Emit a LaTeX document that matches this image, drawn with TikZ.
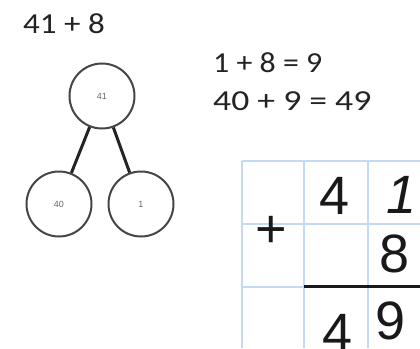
\documentclass[tikz,border=0pt]{standalone}
\usepackage{fontspec}
\setmainfont{Carlito}
\newfontfamily\handfont{Liberation Sans}
\newfontfamily\labfont{Liberation Sans}
\definecolor{gridblue}{RGB}{196,218,243}
\definecolor{inkgray}{RGB}{35,35,35}
\definecolor{circgray}{RGB}{70,70,70}
\definecolor{handink}{RGB}{25,25,25}
\begin{document}
\begin{tikzpicture}[x=1pt,y=-1pt,
  bubble/.style={circle,draw=circgray,line width=2pt,minimum size=65pt,inner sep=0pt,
    font=\labfont\fontsize{9}{9}\selectfont,text=black!60},
  link/.style={draw=inkgray,line width=3pt},
  gridline/.style={draw=gridblue,line width=1.3pt},
  typed/.style={anchor=base west,inner sep=0pt,text=inkgray,font=\fontsize{29}{29}\selectfont},
  hand/.style={anchor=base,inner sep=0pt,text=handink,font=\handfont\fontsize{54}{54}\selectfont}]
\useasboundingbox (0,0) rectangle (420,348);
\clip (0,0) rectangle (420,348);
% number bond
\node[bubble] (top) at (102,96) {41};
\node[bubble] (left) at (59,204) {40};
\node[bubble] (right) at (141,204) {1};
\draw[link] (top) -- (left);
\draw[link] (top) -- (right);
% typed text
\node[typed] (sum) at (23,33) {\scalebox{1.14}[1]{41 + 8}};
\node[typed] (eqa) at (213,72) {\scalebox{1.10}[1]{1 + 8 = 9}};
\node[typed] (eqb) at (213,110) {\scalebox{1.23}[1]{40 + 9 = 49}};
% grid
\draw[gridline] (242,161) -- (242,348);
\draw[gridline] (304,161) -- (304,348);
\draw[gridline] (368,161) -- (368,348);
\draw[gridline] (242,161) -- (420,161);
\draw[gridline] (242,224) -- (420,224);
\draw[gridline] (242,287) -- (304,287);
\draw[line width=3pt,handink] (304,286) -- (420,286);
% handwritten digits
\node[hand] (tens) at (335,214) {4};
\node[hand,font=\handfont\itshape\fontsize{54}{54}\selectfont] (ones) at (402,213) {1};
\node[hand] (plus) at (271,247) {+};
\node[hand] (eight) at (395,272) {8};
\node[hand] (rtens) at (338,351) {4};
\node[hand] (rones) at (391,339) {9};
\end{tikzpicture}
\end{document}
